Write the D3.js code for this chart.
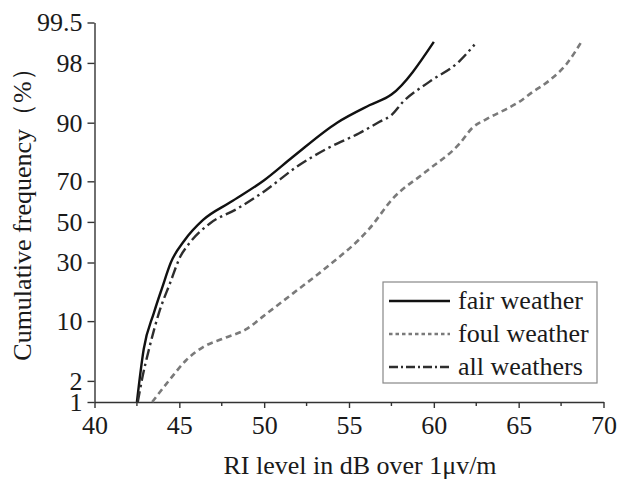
<!DOCTYPE html>
<html>
<head>
<meta charset="utf-8">
<script src="https://cdn.jsdelivr.net/npm/d3@7"></script>
<style>
  body { margin: 0; background: #fff; }
  text { font-family: "Liberation Serif", "Times New Roman", serif; fill: #1a1a1a; }
</style>
</head>
<body>
<script>
// ---- data ----
const seriesNames = ["fair weather", "foul weather", "all weathers"];

const fairLevel = [42.5, 42.9, 43.5, 44.0, 44.5, 45.3, 46.4, 48.0, 50.0, 51.7, 54.3, 56.2, 57.5, 60.0];
const fairPct   = [1, 5, 12, 20, 30, 40.5, 51, 60, 70.5, 80, 90, 93.4, 95, 99.0];

const foulLevel = [43.4, 44.45, 45.4, 46.4, 47.6, 49.0, 49.9, 51.7, 53.7, 56.2, 57.6, 59.5, 61.5, 62.3, 63.1, 64.3, 65.0, 65.8, 66.8, 67.8, 68.7];
const foulPct   = [1, 2.1, 3.7, 5.3, 6.6, 8.4, 11, 17.8, 28, 46.5, 62, 74, 84.3, 88.9, 90.8, 92.8, 93.9, 95.3, 96.6, 97.9, 99.0];

const allLevel = [42.55, 42.8, 43.2, 43.85, 44.45, 45.05, 45.6, 46.8, 48.4, 50.1, 51.9, 53.7, 55.6, 56.8, 57.5, 58.2, 59.75, 61.5, 62.4];
const allPct   = [1, 2.1, 4.9, 12.7, 21.4, 32.6, 39.2, 49.2, 56.7, 65.9, 76.1, 82.8, 87.4, 90.2, 91.6, 94.0, 96.5, 98.1, 98.9];

const xTicks = [40, 45, 50, 55, 60, 65, 70];
const xMinor = [42.5, 47.5, 52.5, 57.5, 62.5, 67.5];
const yTicks = [1, 2, 10, 30, 50, 70, 90, 98, 99.5];

// normal quantile (probability paper), Acklam's approximation
function probit(p) {
  const a = [-39.69683028665376, 220.9460984245205, -275.9285104469687, 138.3577518672690, -30.66479806614716, 2.506628277459239];
  const b = [-54.47609879822406, 161.5858368580409, -155.6989798598866, 66.80131188771972, -13.28068155288572];
  const c = [-0.007784894002430293, -0.3223964580411365, -2.400758277161838, -2.549732539343734, 4.374664141464968, 2.938163982698783];
  const d = [0.007784695709041462, 0.3224671290700398, 2.445134137142996, 3.754408661907416];
  const pl = 0.02425;
  let q, r;
  if (p < pl) {
    q = Math.sqrt(-2 * Math.log(p));
    return (((((c[0]*q+c[1])*q+c[2])*q+c[3])*q+c[4])*q+c[5]) / ((((d[0]*q+d[1])*q+d[2])*q+d[3])*q+1);
  } else if (p <= 1 - pl) {
    q = p - 0.5; r = q * q;
    return (((((a[0]*r+a[1])*r+a[2])*r+a[3])*r+a[4])*r+a[5])*q / (((((b[0]*r+b[1])*r+b[2])*r+b[3])*r+b[4])*r+1);
  } else {
    q = Math.sqrt(-2 * Math.log(1 - p));
    return -(((((c[0]*q+c[1])*q+c[2])*q+c[3])*q+c[4])*q+c[5]) / ((((d[0]*q+d[1])*q+d[2])*q+d[3])*q+1);
  }
}

const W = 619, H = 479;
const plot = {left: 94.5, right: 603.5, top: 22.5, bottom: 402};
const fs = "26px";

const x = d3.scaleLinear().domain([40, 70]).range([plot.left, plot.right]);
const z = d3.scaleLinear().domain([probit(0.01), probit(0.995)]).range([plot.bottom, plot.top]);
const y = pct => z(probit(pct / 100));

const svg = d3.select("body").append("svg")
    .attr("width", W)
    .attr("height", H);

// x axis
const gx = svg.append("g")
    .attr("transform", `translate(0,${plot.bottom})`)
    .call(d3.axisBottom(x).tickValues(xTicks).tickSize(6).tickSizeOuter(0).tickPadding(8));
gx.selectAll(".tick text").style("font-size", fs);
gx.selectAll(".tick line").attr("stroke", "#333").attr("stroke-width", 1.4);
gx.select(".domain").attr("stroke", "#333").attr("stroke-width", 1.4);
gx.selectAll(".minor").data(xMinor).enter().append("line")
    .attr("x1", d => x(d)).attr("x2", d => x(d))
    .attr("y1", 0).attr("y2", 4)
    .attr("stroke", "#333").attr("stroke-width", 1.4);

// y axis
const gy = svg.append("g")
    .attr("transform", `translate(${plot.left},0)`)
    .call(d3.axisLeft(z).tickValues(yTicks.map(d => probit(d / 100))).tickFormat((d, i) => yTicks[i])
      .tickSize(7).tickSizeOuter(0).tickPadding(5));
gy.selectAll(".tick text").style("font-size", fs);
gy.selectAll(".tick line").attr("stroke", "#333").attr("stroke-width", 1.4);
gy.select(".domain").attr("stroke", "#333").attr("stroke-width", 1.4);
gy.selectAll("text").attr("fill", "#1a1a1a");
gx.selectAll("text").attr("fill", "#1a1a1a");

// series
const series = [
  {name: seriesNames[0], lv: fairLevel, pc: fairPct, color: "#111", dash: null, w: 2.4},
  {name: seriesNames[1], lv: foulLevel, pc: foulPct, color: "#7a7a7a", dash: "6,4", w: 2.6},
  {name: seriesNames[2], lv: allLevel, pc: allPct, color: "#2e2e2e", dash: "11,4,2.5,4", w: 2.4}
];

const line = d3.line()
    .x(d => x(d[0]))
    .y(d => y(d[1]))
    .curve(d3.curveMonotoneX);

series.forEach(s => {
  svg.append("path")
      .datum(s.lv.map((v, i) => [v, s.pc[i]]))
      .attr("fill", "none")
      .attr("stroke", s.color)
      .attr("stroke-width", s.w)
      .attr("stroke-dasharray", s.dash)
      .attr("d", line);
});

// axis titles
svg.append("text")
    .attr("x", 360)
    .attr("y", 474)
    .attr("text-anchor", "middle")
    .style("font-size", fs)
    .text("RI level in dB over 1μv/m");

svg.append("text")
    .attr("transform", "translate(31,208) rotate(-90)")
    .attr("text-anchor", "middle")
    .style("font-size", fs)
    .text("Cumulative frequency（%）");

// legend
const lg = svg.append("g").attr("transform", "translate(383,282)");
lg.append("rect")
    .attr("width", 214).attr("height", 101)
    .attr("fill", "#fff").attr("stroke", "#888").attr("stroke-width", 1.2);
const legendDash = [null, "3.5,3", "9,3,2,3"];
series.forEach((s, i) => {
  const ly = 19 + i * 33;
  lg.append("line")
      .attr("x1", 6).attr("x2", 67).attr("y1", ly).attr("y2", ly)
      .attr("stroke", s.color).attr("stroke-width", s.w)
      .attr("stroke-dasharray", legendDash[i]);
  lg.append("text")
      .attr("x", 75).attr("y", ly + 8)
      .style("font-size", fs)
      .text(s.name);
});
</script>
</body>
</html>
